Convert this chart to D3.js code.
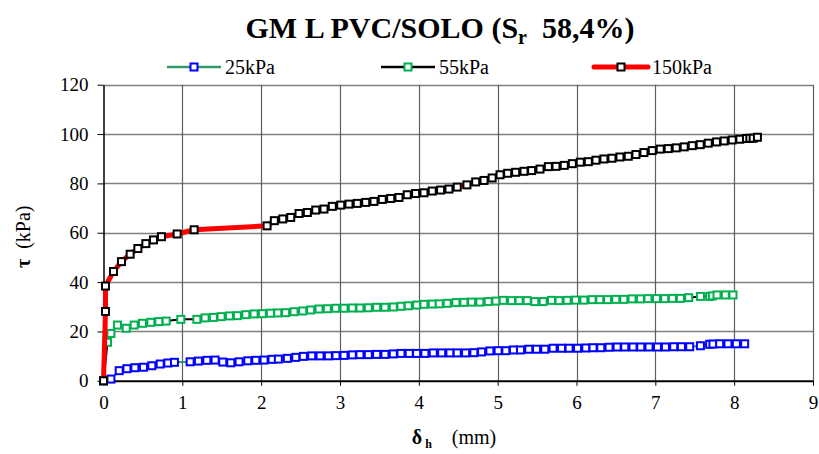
<!DOCTYPE html>
<html>
<head>
<meta charset="utf-8">
<script src="https://cdn.jsdelivr.net/npm/d3@7"></script>
<style>
  html, body { margin: 0; padding: 0; background: #fff; }
  svg { display: block; }
  svg text { font-family: "Liberation Serif", "Times New Roman", Times, "DejaVu Serif", serif; fill: #000; }
</style>
</head>
<body>
<svg id="chart" width="819" height="454"></svg>
<script>
// Horizontal displacement (mm) and shear stress (kPa) for each normal stress
const x25 = [0, 0.094, 0.199, 0.297, 0.398, 0.507, 0.613, 0.719, 0.816, 0.900,
  1.099, 1.204, 1.311, 1.416, 1.513, 1.615, 1.720, 1.830, 1.932, 2.037,
  2.138, 2.218, 2.332, 2.439, 2.535, 2.641, 2.747, 2.852, 2.949, 3.051,
  3.156, 3.253, 3.359, 3.465, 3.570, 3.676, 3.773, 3.878, 3.972, 4.077,
  4.183, 4.289, 4.394, 4.487, 4.593, 4.698, 4.796, 4.901, 5.006, 5.104,
  5.200, 5.290, 5.395, 5.493, 5.598, 5.703, 5.810, 5.906, 6.013, 6.118,
  6.210, 6.308, 6.413, 6.515, 6.612, 6.717, 6.815, 6.920, 7.027, 7.128,
  7.233, 7.331, 7.436, 7.572, 7.689, 7.731, 7.816, 7.921, 8.028, 8.133];
const y25 = [0, 0.7, 4.1, 4.9, 5.3, 5.5, 6.1, 6.8, 7.2, 7.5,
  7.7, 8.0, 8.3, 8.4, 7.6, 7.3, 7.7, 8.1, 8.3, 8.4,
  8.7, 8.8, 9.1, 9.5, 9.9, 10.1, 10.1, 10.1, 10.2, 10.3,
  10.5, 10.6, 10.6, 10.7, 10.7, 10.9, 11.1, 11.1, 11.1, 11.1,
  11.3, 11.3, 11.3, 11.3, 11.3, 11.4, 11.7, 12.1, 12.2, 12.2,
  12.5, 12.5, 12.8, 12.8, 12.8, 13.2, 13.2, 13.2, 13.2, 13.3,
  13.4, 13.4, 13.6, 13.7, 13.7, 13.7, 13.7, 13.7, 13.7, 13.7,
  13.8, 13.8, 13.8, 14.2, 14.8, 14.9, 15.0, 15.0, 15.0, 15.0];

const x55 = [0, 0.051, 0.094, 0.177, 0.288, 0.389, 0.494, 0.601, 0.702, 0.795,
  0.981, 1.184, 1.289, 1.394, 1.492, 1.597, 1.698, 1.805, 1.910, 2.015,
  2.117, 2.210, 2.310, 2.417, 2.527, 2.628, 2.734, 2.839, 2.945, 3.051,
  3.156, 3.253, 3.359, 3.465, 3.570, 3.676, 3.773, 3.866, 3.972, 4.065,
  4.170, 4.259, 4.360, 4.470, 4.572, 4.669, 4.774, 4.880, 4.977, 5.070,
  5.176, 5.272, 5.374, 5.471, 5.577, 5.683, 5.779, 5.881, 5.987, 6.093,
  6.198, 6.295, 6.393, 6.498, 6.600, 6.705, 6.811, 6.907, 7.014, 7.119,
  7.217, 7.318, 7.423, 7.572, 7.689, 7.724, 7.782, 7.888, 7.985];
const y55 = [0, 15.6, 19.2, 22.6, 21.3, 22.6, 23.3, 23.7, 24.0, 24.2,
  24.9, 24.9, 25.5, 25.7, 26.0, 26.3, 26.4, 26.8, 27.1, 27.2,
  27.4, 27.5, 27.6, 28.0, 28.3, 28.7, 29.1, 29.2, 29.4, 29.4,
  29.5, 29.5, 29.6, 29.8, 29.8, 29.9, 30.2, 30.4, 30.7, 31.0,
  31.1, 31.2, 31.4, 31.7, 31.8, 31.9, 31.9, 32.1, 32.3, 32.6,
  32.5, 32.5, 32.5, 32.1, 32.1, 32.6, 32.5, 32.6, 32.7, 32.7,
  32.9, 32.9, 32.9, 33.0, 33.0, 33.2, 33.2, 33.3, 33.3, 33.3,
  33.4, 33.4, 33.7, 34.2, 34.2, 34.4, 34.8, 34.8, 34.8];

const x150 = [0, 0.025, 0.025, 0.127, 0.228, 0.338, 0.436, 0.537, 0.634, 0.735,
  0.934, 1.150, 2.075, 2.167, 2.274, 2.375, 2.480, 2.586, 2.692, 2.797,
  2.902, 3.009, 3.114, 3.219, 3.326, 3.431, 3.536, 3.643, 3.748, 3.853,
  3.959, 4.065, 4.170, 4.276, 4.382, 4.487, 4.610, 4.721, 4.827, 4.930,
  5.030, 5.127, 5.228, 5.334, 5.431, 5.537, 5.643, 5.740, 5.845, 5.947,
  6.048, 6.150, 6.247, 6.348, 6.450, 6.551, 6.657, 6.754, 6.855, 6.961,
  7.062, 7.163, 7.265, 7.366, 7.468, 7.569, 7.671, 7.776, 7.873, 7.975,
  8.072, 8.156, 8.199, 8.241, 8.295];
const y150 = [0, 28.1, 38.4, 44.3, 48.3, 51.3, 53.6, 55.6, 57.1, 58.4,
  59.5, 61.2, 62.8, 64.9, 65.6, 66.2, 67.8, 68.2, 69.2, 69.6,
  70.7, 71.2, 71.6, 71.9, 72.3, 72.7, 73.5, 73.9, 74.3, 75.4,
  75.9, 76.2, 76.9, 77.3, 77.7, 78.5, 79.4, 80.6, 81.2, 82.2,
  83.5, 84.1, 84.5, 84.9, 85.2, 85.8, 86.8, 86.9, 87.3, 88.0,
  88.6, 88.8, 89.4, 89.9, 90.2, 90.7, 91.0, 91.7, 92.5, 93.3,
  93.9, 94.1, 94.4, 94.8, 95.3, 95.7, 96.3, 96.8, 97.2, 97.6,
  97.9, 98.2, 98.3, 98.3, 98.7];

const seriesNames = ["25kPa", "55kPa", "150kPa"];
const xTicks = [0, 1, 2, 3, 4, 5, 6, 7, 8, 9];
const yTicks = [0, 20, 40, 60, 80, 100, 120];

// Series appearance: line colour/width and marker outline colour
const styles = [
  { line: "#339966", width: 2, marker: "#0000ff" },
  { line: "#000000", width: 2, marker: "#00b050" },
  { line: "#ff0000", width: 5, marker: "#000000" }
];

const series = [
  { name: seriesNames[0], xs: x25, ys: y25 },
  { name: seriesNames[1], xs: x55, ys: y55 },
  { name: seriesNames[2], xs: x150, ys: y150 }
].map((s, i) => ({ ...s, style: styles[i], pts: s.xs.map((v, j) => [v, s.ys[j]]) }));

const svg = d3.select("#chart");
const plot = { left: 103.5, right: 813, top: 84.7, bottom: 380.8 };

const x = d3.scaleLinear().domain([0, 9]).range([plot.left, plot.right]);
const y = d3.scaleLinear().domain([0, 120]).range([plot.bottom, plot.top]);

// Grid
const grid = svg.append("g");
grid.selectAll("line.h").data(yTicks.filter(d => d > 0)).join("line")
  .attr("x1", plot.left).attr("x2", plot.right)
  .attr("y1", d => Math.round(y(d)) + 0.5).attr("y2", d => Math.round(y(d)) + 0.5)
  .attr("stroke", "#7f7f7f").attr("stroke-width", 1.3);
grid.selectAll("line.v").data(xTicks.filter(d => d > 0)).join("line")
  .attr("x1", d => Math.round(x(d)) + 0.5).attr("x2", d => Math.round(x(d)) + 0.5)
  .attr("y1", plot.top).attr("y2", plot.bottom)
  .attr("stroke", "#5f5f5f").attr("stroke-width", 1.2);

// Axes
const xAxis = d3.axisBottom(x).tickValues(xTicks).tickFormat(d3.format("d")).tickSizeInner(5).tickSizeOuter(0).tickPadding(10);
const yAxis = d3.axisLeft(y).tickValues(yTicks).tickFormat(d3.format("d")).tickSizeInner(6).tickSizeOuter(0).tickPadding(9);

const gx = svg.append("g").attr("transform", `translate(0,${plot.bottom})`).call(xAxis);
gx.attr("font-family", null);
gx.select(".domain").attr("stroke", "#000").attr("stroke-width", 2);
gx.selectAll(".tick line").attr("stroke", "#000").attr("stroke-width", 1);
gx.selectAll(".tick text").attr("font-size", 19);

const gy = svg.append("g").attr("transform", `translate(${plot.left},0)`).call(yAxis);
gy.attr("font-family", null);
gy.select(".domain").attr("stroke", "#000").attr("stroke-width", 1.5);
gy.selectAll(".tick line").attr("stroke", "#000").attr("stroke-width", 1);
gy.selectAll(".tick text").attr("font-size", 19);

// Series lines then markers
const line = d3.line().x(d => x(d[0])).y(d => y(d[1]));
const ms = 7;
series.forEach(s => {
  const g = svg.append("g");
  g.append("path").datum(s.pts).attr("d", line)
    .attr("fill", "none").attr("stroke", s.style.line)
    .attr("stroke-width", s.style.width).attr("stroke-linejoin", "round");
  g.selectAll("rect").data(s.pts).join("rect")
    .attr("x", d => x(d[0]) - ms / 2).attr("y", d => y(d[1]) - ms / 2)
    .attr("width", ms).attr("height", ms)
    .attr("fill", "#fff").attr("stroke", s.style.marker).attr("stroke-width", 2);
});

// Legend
const legendX = [167, 381, 594];
const legend = svg.append("g");
series.forEach((s, i) => {
  const lx = legendX[i], ly = 67;
  legend.append("line").attr("x1", lx).attr("x2", lx + 54).attr("y1", ly).attr("y2", ly)
    .attr("stroke", s.style.line).attr("stroke-width", s.style.width === 5 ? 5 : 2.5)
    .attr("stroke-linecap", s.style.width === 5 ? "round" : "butt");
  legend.append("rect").attr("x", lx + 27 - ms / 2).attr("y", ly - ms / 2)
    .attr("width", ms).attr("height", ms)
    .attr("fill", "#fff").attr("stroke", s.style.marker).attr("stroke-width", 2);
  legend.append("text").attr("x", lx + 58).attr("y", ly + 6.5)
    .attr("font-size", 20).text(s.name);
});

// Title
const title = svg.append("text").attr("x", 440).attr("y", 38)
  .attr("text-anchor", "middle").attr("font-size", 30).attr("font-weight", "bold");
title.append("tspan").text("GM L PVC/SOLO (S");
title.append("tspan").attr("font-size", 20).attr("dy", 6).text("r");
title.append("tspan").attr("dy", -6).text("\u00a0 58,4%)");

// Axis titles
const yt = svg.append("text")
  .attr("transform", `translate(30,${(plot.top + plot.bottom) / 2 + 4}) rotate(-90)`)
  .attr("text-anchor", "middle").attr("font-size", 20);
yt.append("tspan").attr("font-weight", "bold").text("\u03c4");
yt.append("tspan").text("\u00a0 (kPa)");

const xt = svg.append("text").attr("x", 454).attr("y", 444)
  .attr("text-anchor", "middle").attr("font-size", 20);
xt.append("tspan").attr("font-weight", "bold").text("\u03b4");
xt.append("tspan").attr("font-weight", "bold").attr("font-size", 12).attr("dy", 4).text(" h");
xt.append("tspan").attr("dy", -4).text("\u00a0\u00a0\u00a0 (mm)");
</script>
</body>
</html>
